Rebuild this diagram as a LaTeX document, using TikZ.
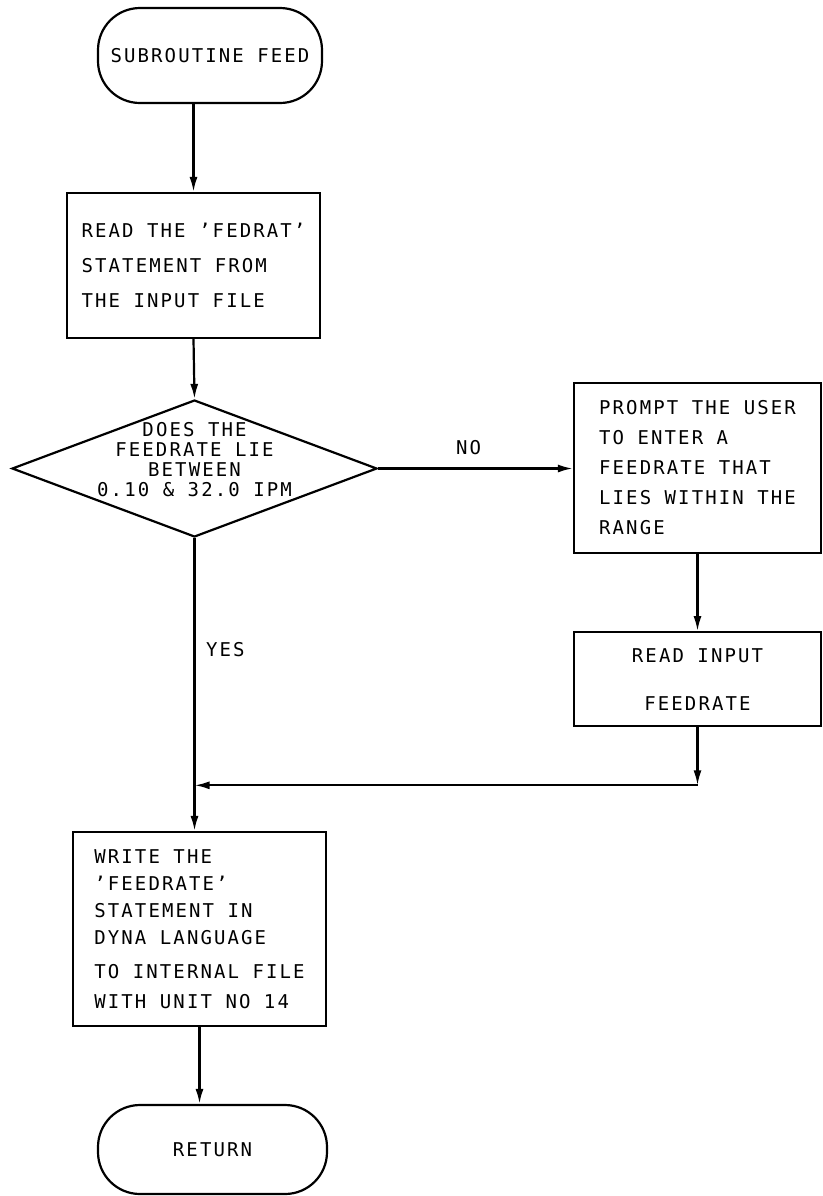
\documentclass[tikz,border=0pt]{standalone}
\usepackage{fontspec}
\setmainfont{DejaVu Sans Mono}[LetterSpace=11]
\usetikzlibrary{arrows.meta,positioning,shapes.geometric}

\begin{document}
\begin{tikzpicture}[x=0.5pt,y=-0.5pt,>={Latex[length=7.5pt,width=4pt]},line width=1.1pt]
  \tikzstyle{termNode}=[draw,rounded corners=21pt,minimum height=47.5pt,font=\fontsize{9.5}{10}\selectfont]
  \tikzstyle{procNode}=[draw,align=left,inner sep=0pt]
  \tikzstyle{decNode}=[draw,diamond,inner sep=0pt]
  \tikzstyle{tagText}=[font=\fontsize{9.5}{10}\selectfont,inner sep=0pt]
  \useasboundingbox (0,0) rectangle (823,1196);
  \node[termNode,minimum width=112pt] (start) at (210,55.5) {SUBROUTINE FEED};
  \node[procNode,minimum width=126.5pt,minimum height=72.5pt,font=\fontsize{9.5}{17.5}\selectfont] (read) at (193.5,265.5) {READ THE 'FEDRAT'\\STATEMENT FROM\\THE INPUT FILE};
  \node[decNode,minimum width=182.5pt,minimum height=68.5pt,
    label={[align=center,font=\fontsize{9.5}{10}\selectfont,yshift=4.5pt]center:DOES THE\\FEEDRATE LIE\\BETWEEN\\0.10 \& 32.0 IPM}] (dec) at (194.5,468.5) {};
  \node[procNode,minimum width=123.5pt,minimum height=85pt,font=\fontsize{9.5}{15}\selectfont] (prompt) at (697.5,468) {PROMPT THE USER\\TO ENTER A\\FEEDRATE THAT\\LIES WITHIN THE\\RANGE};
  \node[procNode,align=center,below=38.5pt of prompt,minimum width=123.5pt,minimum height=47pt,font=\fontsize{9.5}{24}\selectfont] (readin) {READ INPUT\\FEEDRATE};
  \node[procNode,minimum width=126.5pt,minimum height=97pt,font=\fontsize{9.5}{13.5}\selectfont] (write) at (199.5,929) {WRITE THE\\'FEEDRATE'\\STATEMENT IN\\DYNA LANGUAGE\\[3.5pt]TO INTERNAL FILE\\[1.5pt]WITH UNIT NO 14};
  \node[termNode,minimum width=114.5pt,minimum height=44.5pt] (ret) at (212.5,1149.5) {RETURN};
  \node[tagText] (no) at (468.5,448) {NO};
  \node[tagText,anchor=west] (yes) at (205,650) {YES};
  % connectors
  \coordinate (corner) at ([yshift=-29pt]readin.south);
  \coordinate (merge) at (corner -| dec.south);
  \draw[->] (read.north |- start.south) -- (read.north);
  \draw[->] (read.south) -- (dec.north);
  \draw[->] (dec.east) -- (dec.east -| prompt.west);
  \draw[->] (prompt.south) -- (readin.north);
  \draw[->] (readin.south) -- (corner);
  \draw[->] (corner) -- (merge);
  \draw[->] (dec.south) -- (dec.south |- write.north);
  \draw[->] (write.south) -- (write.south |- ret.north);
\end{tikzpicture}
\end{document}
